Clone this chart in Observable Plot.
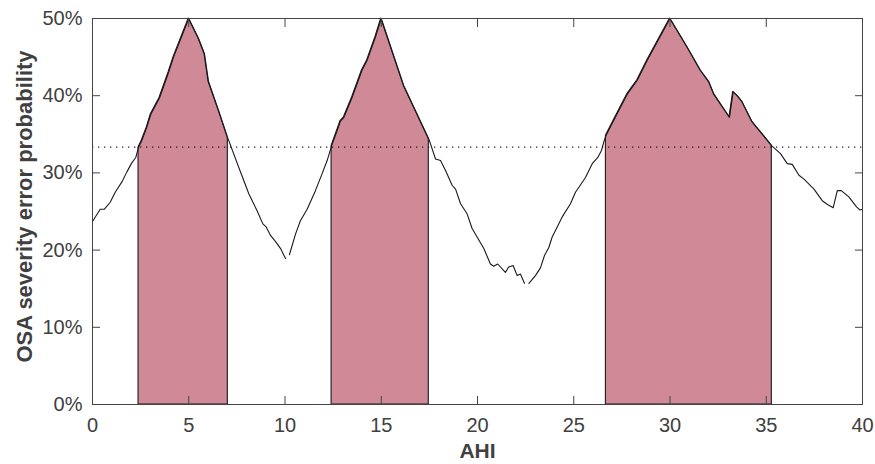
<!DOCTYPE html>
<html>
<head>
<meta charset="utf-8">
<script src="https://cdn.jsdelivr.net/npm/d3@7"></script>
<script src="https://cdn.jsdelivr.net/npm/@observablehq/plot@0.6"></script>
<style>
  html, body { margin: 0; padding: 0; background: #fff; }
  #chart { width: 875px; height: 464px; }
</style>
</head>
<body>
<div id="chart"></div>
<script>
// AHI values (x) and error probability in percent (y); null = gap in the curve
const ahi = [
  0, 0.40, 0.62, 0.92, 1.18, 1.52, 1.78, 2.04, 2.25, 2.39, 2.56, 2.82, 3.03, 3.48, 3.95, 4.21,
  5.0, 5.51, 5.82, 6.03, 6.55, 7.03, 7.6, 8.12, 8.55, 8.85, 9.02, 9.25, 9.54, 9.77, 10.03,
  10.13,
  10.23, 10.55, 10.8, 11.15, 11.58, 11.93, 12.19, 12.42, 12.71, 12.88, 13.06, 13.49, 14.0, 14.27, 14.7,
  15.0, 16.17, 17.47, 17.82, 18.08, 18.34, 18.68, 18.86, 19.12, 19.46, 19.72, 20.33, 20.67, 20.84,
  21.05, 21.45, 21.62, 21.85, 22.06, 22.23, 22.44,
  22.55,
  22.67, 23.01, 23.27, 23.48, 23.7, 23.88, 24.14, 24.4, 24.83, 25.09, 25.61, 25.96, 26.25, 26.44,
  26.56, 26.67, 27.26, 27.78, 28.3, 28.82, 30.0, 30.89, 31.58, 32.02, 32.28, 33.09, 33.28, 33.49,
  33.75, 34.27, 34.87, 35.29, 35.74, 36.09, 36.35, 36.7, 36.96, 37.48, 37.91, 38.18, 38.48, 38.69,
  38.9, 39.29, 39.69, 39.86, 40.0
];
const errorPct = [
  23.7, 25.3, 25.3, 26.2, 27.5, 28.8, 30.1, 31.3, 32.0, 33.3, 34.2, 35.9, 37.6, 39.7, 43.0, 45.0,
  50.0, 47.4, 45.4, 41.8, 38.1, 34.5, 30.7, 27.3, 25.1, 23.4, 23.0, 21.9, 21.0, 20.2, 18.9,
  null,
  19.4, 22.1, 23.8, 25.3, 27.7, 29.9, 31.6, 33.5, 35.5, 36.7, 37.2, 39.8, 43.3, 44.6, 47.6,
  50.0, 41.3, 34.4, 31.8, 31.6, 30.3, 28.4, 27.9, 26.0, 24.7, 22.8, 20.2, 18.2, 17.9,
  18.2, 17.1, 17.8, 18.0, 16.7, 16.9, 15.7,
  null,
  15.7, 16.7, 17.7, 19.3, 20.3, 21.7, 23.0, 24.3, 26.0, 27.5, 29.4, 31.2, 32.0, 32.9,
  34.0, 34.8, 37.7, 40.2, 42.0, 44.6, 50.0, 46.3, 43.3, 41.8, 40.2, 37.2, 40.5, 40.0,
  39.2, 36.6, 34.8, 33.5, 32.5, 31.2, 31.1, 29.7, 29.2, 27.9, 26.4, 25.9, 25.5, 27.7,
  27.7, 26.9, 25.6, 25.2, 25.3
];

// shaded regions (AHI bounds)
const regionStart = [2.39, 12.42, 26.67];
const regionEnd = [7.03, 17.47, 35.29];

const threshold = [100 / 3];
const xTicks = [0, 5, 10, 15, 20, 25, 30, 35, 40];
const yTicks = [0, 10, 20, 30, 40, 50];
const xLabel = "AHI";
const yLabel = "OSA severity error probability";

const curve = ahi.map((x, i) => ({x, y: errorPct[i]}));
const shaded = [];
regionStart.forEach((s, r) => {
  curve.forEach(d => {
    if (d.y != null && d.x >= s && d.x <= regionEnd[r]) shaded.push({...d, region: r});
  });
});

const font = "'Liberation Sans', Arial, Helvetica, sans-serif";
const axisColor = "#444";
const textColor = "#404040";

const chart = Plot.plot({
  width: 875,
  height: 464,
  marginLeft: 92,
  marginRight: 13,
  marginTop: 18,
  marginBottom: 60,
  style: {fontFamily: font, fontSize: "20px", background: "#fff", color: textColor, overflow: "visible"},
  x: {domain: [0, 40]},
  y: {domain: [0, 50]},
  marks: [
    Plot.areaY(shaded, {x: "x", y: "y", z: "region", fill: "#cf8997", stroke: "#1a1a1a", strokeWidth: 1.1}),
    Plot.ruleY(threshold, {stroke: "#222", strokeWidth: 1.1, strokeDasharray: "1.3,4.7"}),
    Plot.line(curve, {x: "x", y: "y", stroke: "#1a1a1a", strokeWidth: 1.1}),
    Plot.frame({stroke: axisColor, strokeWidth: 1}),
    Plot.axisX({anchor: "bottom", ticks: xTicks, tickSize: -8, tickPadding: 21, stroke: axisColor, fill: textColor, fontSize: 20, label: null}),
    Plot.axisX({anchor: "top", ticks: xTicks, tickSize: -8, tickFormat: () => "", stroke: axisColor, label: null}),
    Plot.axisY({anchor: "left", ticks: yTicks, tickSize: -8, tickPadding: 18, tickFormat: d => d + "%", stroke: axisColor, fill: textColor, fontSize: 20, label: null}),
    Plot.axisY({anchor: "right", ticks: yTicks, tickSize: -8, tickFormat: () => "", stroke: axisColor, label: null}),
    Plot.text([xLabel], {frameAnchor: "bottom", dy: 47, lineAnchor: "middle", fontWeight: "bold", fontSize: 21, fill: textColor}),
    Plot.text([yLabel], {frameAnchor: "left", dx: -68, dy: -5, rotate: -90, lineAnchor: "middle", textAnchor: "middle", fontWeight: "bold", fontSize: 22, fill: textColor})
  ]
});
document.getElementById("chart").appendChild(chart);
</script>
</body>
</html>
